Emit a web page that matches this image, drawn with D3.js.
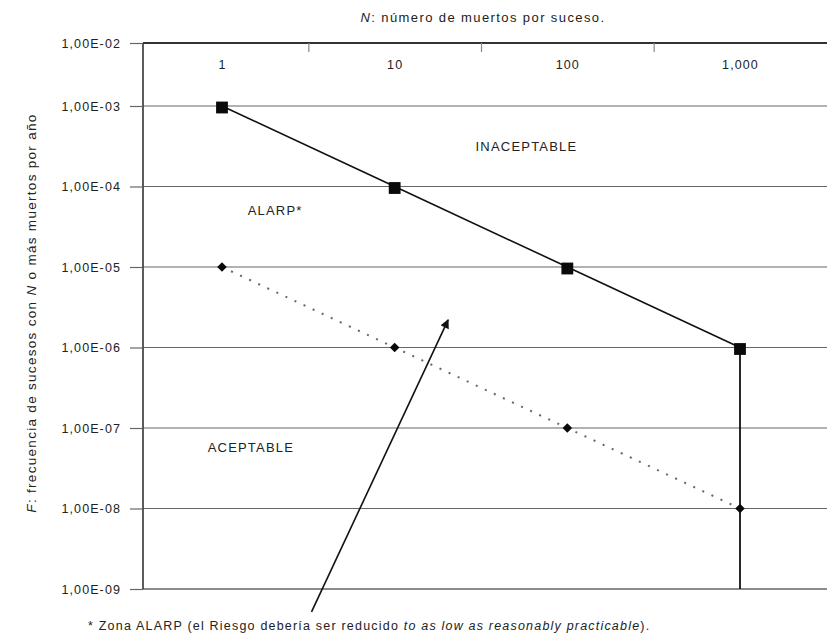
<!DOCTYPE html>
<html><head><meta charset="utf-8">
<script src="https://cdn.jsdelivr.net/npm/d3@7"></script>
<style>
html,body{margin:0;padding:0;background:#fff;}
svg{display:block;font-family:"Liberation Sans",Arial,Helvetica,sans-serif;}
text{fill:#222;}
</style></head>
<body>
<svg id="chart" width="827" height="644"></svg>
<script>
// ---- data ----
const deaths = [1, 10, 100, 1000];
const deathLabels = ["1", "10", "100", "1,000"];
const limitFreq = [1e-3, 1e-4, 1e-5, 1e-6];       // upper criterion (squares)
const acceptFreq = [1e-5, 1e-6, 1e-7, 1e-8];      // lower criterion (diamonds)
const freqExponents = [-2, -3, -4, -5, -6, -7, -8, -9];
const freqLabels = ["1,00E-02","1,00E-03","1,00E-04","1,00E-05","1,00E-06","1,00E-07","1,00E-08","1,00E-09"];
const zoneNames = ["INACEPTABLE", "ALARP*", "ACEPTABLE"];
const zoneN = [58, 2.03, 1.47];
const zoneF = [3.1e-4, 5e-5, 5.7e-8];
const arrowN = [3.3, 20.4];
const arrowF = [5.2e-10, 2.2e-6];

(function () {
const svg = d3.select("#chart");
const mLeft = 143, mRight = 827, mTop = 43, mBottom = 589;
const FONT = '"Liberation Sans",Arial,sans-serif';

const x = d3.scaleLog().domain([1, 1000]).range([222, 740]);
const yExp = d3.scaleLinear().domain([-9, -3, -2]).range([589, 106, 43]);
const y = v => yExp(Math.log10(v));

// defs: arrow head
svg.append("defs").append("marker")
  .attr("id","ah").attr("viewBox","0 0 10 10").attr("refX",9).attr("refY",5)
  .attr("markerWidth",11).attr("markerHeight",9).attr("markerUnits","userSpaceOnUse")
  .attr("orient","auto")
  .append("path").attr("d","M0,0 L10,5 L0,10 z").attr("fill","#111");

// gridlines
svg.append("g").selectAll("line").data(freqExponents.filter(e => e <= -3)).join("line")
  .attr("x1", mLeft).attr("x2", mRight)
  .attr("y1", d => yExp(d)).attr("y2", d => yExp(d))
  .attr("stroke", "#666").attr("stroke-width", d => d === -9 ? 1.6 : 1.2);

// top frame line
svg.append("line").attr("x1", mLeft).attr("x2", mRight)
  .attr("y1", yExp(-2)).attr("y2", yExp(-2))
  .attr("stroke", "#333").attr("stroke-width", 2);

// left axis
const yAxis = d3.axisLeft(yExp).tickValues(freqExponents)
  .tickFormat((d, i) => freqLabels[i]).tickSize(13).tickPadding(9);
const gy = svg.append("g").attr("transform", `translate(${mLeft},0)`).call(yAxis);
gy.select(".domain").attr("stroke", "#333").attr("stroke-width", 1.6)
  .attr("d", `M0,${mTop}V${mBottom}`);
gy.selectAll(".tick line").attr("stroke", "#666").attr("stroke-width", 1.2);
gy.selectAll(".tick text").attr("font-size", 12.5).attr("fill", "#222")
  .attr("letter-spacing", 1.1).attr("font-family", FONT);

// top axis labels (inside, under frame)
const xAxis = d3.axisBottom(x).tickValues(deaths)
  .tickFormat((d, i) => deathLabels[i]).tickSize(0).tickPadding(17);
const gx = svg.append("g").attr("transform", `translate(0,${mTop})`).call(xAxis);
gx.select(".domain").remove();
gx.selectAll(".tick text").attr("font-size", 12.5).attr("fill", "#222")
  .attr("letter-spacing", 1.1).attr("font-family", FONT);

// minor ticks between categories
const xMinor = d3.axisBottom(x).tickValues([Math.sqrt(10), Math.sqrt(1000), Math.sqrt(100000)])
  .tickFormat("").tickSize(9);
const gxm = svg.append("g").attr("transform", `translate(0,${mTop})`).call(xMinor);
gxm.select(".domain").remove();
gxm.selectAll(".tick line").attr("stroke", "#888").attr("stroke-width", 1.2);

// upper criterion line
const pts1 = deaths.map((n, i) => [x(n), y(limitFreq[i])]);
svg.append("path").attr("d", d3.line()(pts1))
  .attr("fill", "none").attr("stroke", "#111").attr("stroke-width", 1.6);
// vertical cut-off at N=1000
svg.append("line")
  .attr("x1", x(deaths[3])).attr("x2", x(deaths[3]))
  .attr("y1", y(limitFreq[3])).attr("y2", yExp(-9))
  .attr("stroke", "#111").attr("stroke-width", 1.8);

// lower criterion dotted line
const pts2 = deaths.map((n, i) => [x(n), y(acceptFreq[i])]);
svg.append("path").attr("d", d3.line()(pts2))
  .attr("fill", "none").attr("stroke", "#666").attr("stroke-width", 2)
  .attr("stroke-dasharray", "2,8");

// markers
svg.append("g").selectAll("path").data(pts1).join("path")
  .attr("transform", d => `translate(${d[0]},${d[1] + 1.5})`)
  .attr("d", d3.symbol(d3.symbolSquare, 140)).attr("fill", "#0a0a0a");
svg.append("g").selectAll("path").data(pts2).join("path")
  .attr("transform", d => `translate(${d[0]},${d[1]}) rotate(45)`)
  .attr("d", d3.symbol(d3.symbolSquare, 46)).attr("fill", "#0a0a0a");

// zone labels
svg.append("g").selectAll("text").data(zoneNames).join("text")
  .attr("x", (d, i) => x(zoneN[i])).attr("y", (d, i) => y(zoneF[i]))
  .attr("text-anchor", "middle").attr("dominant-baseline", "central")
  .attr("font-size", 13).attr("letter-spacing", 1.2)
  .text(d => d);

// arrow
svg.append("line")
  .attr("x1", x(arrowN[0])).attr("y1", y(arrowF[0]))
  .attr("x2", x(arrowN[1])).attr("y2", y(arrowF[1]))
  .attr("stroke", "#111").attr("stroke-width", 1.6).attr("marker-end", "url(#ah)");

// top title
const tt = svg.append("text").attr("x", 483).attr("y", 17)
  .attr("text-anchor", "middle").attr("dominant-baseline", "central")
  .attr("font-size", 13).attr("letter-spacing", 1.4);
tt.append("tspan").attr("font-style", "italic").text("N");
tt.append("tspan").text(": número de muertos por suceso.");

// y title
const yt = svg.append("text")
  .attr("transform", `translate(31,${(mTop + mBottom) / 2 - 3}) rotate(-90)`)
  .attr("text-anchor", "middle").attr("dominant-baseline", "central")
  .attr("font-size", 13.5).attr("letter-spacing", 1.3);
yt.append("tspan").attr("font-style", "italic").text("F");
yt.append("tspan").text(": frecuencia de sucesos con ");
yt.append("tspan").attr("font-style", "italic").text("N");
yt.append("tspan").text(" o más muertos por año");

// footnote
const fn = svg.append("text").attr("x", 88).attr("y", 626)
  .attr("dominant-baseline", "central").attr("font-size", 12.5).attr("letter-spacing", 1.2);
fn.append("tspan").text("*  Zona ALARP (el Riesgo debería ser reducido ");
fn.append("tspan").attr("font-style", "italic").text("to as low as reasonably practicable");
fn.append("tspan").text(").");
})();
</script>
</body></html>
